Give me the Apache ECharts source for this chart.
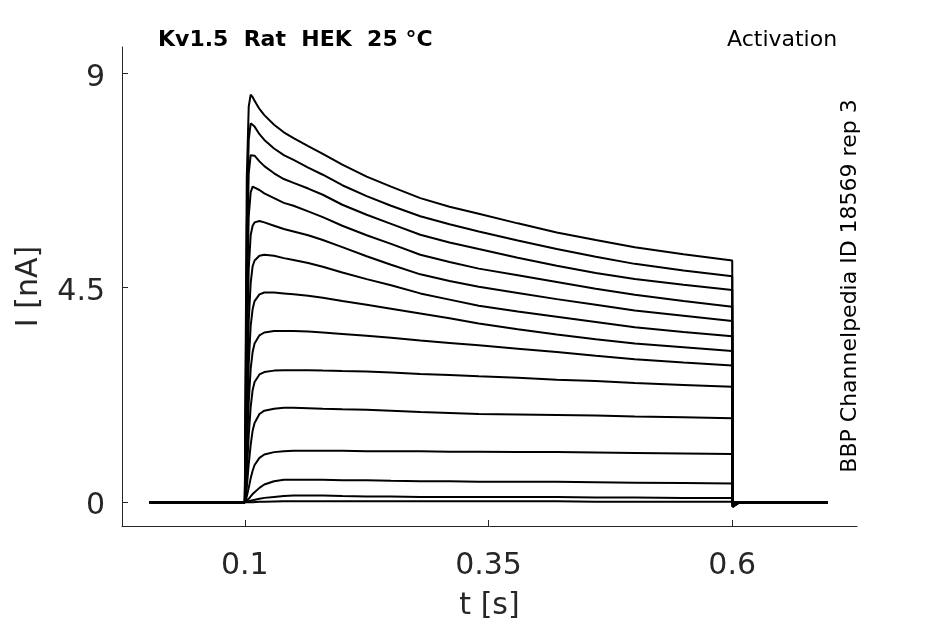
<!DOCTYPE html>
<html>
<head>
<meta charset="utf-8">
<script src="https://cdn.jsdelivr.net/npm/echarts@6/dist/echarts.min.js"></script>
<style>
html,body{margin:0;padding:0;background:#fff;}
#chart{width:945px;height:624px;}
</style>
</head>
<body>
<div id="chart"></div>
<script>
// time samples [s]
var times = [0.002, 0.1, 0.101, 0.102, 0.104, 0.106, 0.108, 0.11, 0.115, 0.12, 0.13,
             0.14, 0.15, 0.165, 0.18, 0.2, 0.225, 0.25, 0.28, 0.31, 0.34, 0.38, 0.42, 0.46, 0.5, 0.55, 0.6,
             0.6005, 0.602, 0.606, 0.615, 0.698];

// current traces [nA], one per voltage step
var trace1  = [0, 0, 3.5, 6.8, 8.3, 8.55, 8.5, 8.42, 8.25, 8.12, 7.92,
               7.76, 7.64, 7.47, 7.31, 7.08, 6.83, 6.62, 6.38, 6.2, 6.05, 5.85, 5.66, 5.5, 5.35, 5.2, 5.07,
               -0.1, -0.06, -0.02, 0, 0];
var trace2  = [0, 0, 2.8, 5.8, 7.6, 7.95, 7.95, 7.88, 7.72, 7.6, 7.42,
               7.28, 7.18, 7.02, 6.87, 6.65, 6.42, 6.22, 6.0, 5.83, 5.68, 5.49, 5.31, 5.15, 5.0, 4.86, 4.74,
               -0.1, -0.06, -0.02, 0, 0];
var trace3  = [0, 0, 2.3, 4.9, 6.9, 7.28, 7.32, 7.27, 7.15, 7.05, 6.9,
               6.78, 6.7, 6.58, 6.45, 6.24, 6.03, 5.84, 5.61, 5.45, 5.31, 5.13, 4.96, 4.81, 4.68, 4.56, 4.45,
               -0.09, -0.05, -0.02, 0, 0];
var trace4  = [0, 0, 1.8, 4.0, 6.0, 6.5, 6.62, 6.62, 6.55, 6.48, 6.38,
               6.28, 6.22, 6.1, 5.98, 5.8, 5.6, 5.42, 5.19, 5.04, 4.9, 4.76, 4.62, 4.48, 4.35, 4.22, 4.1,
               -0.09, -0.05, -0.02, 0, 0];
var trace5  = [0, 0, 1.3, 3.0, 4.9, 5.6, 5.8, 5.87, 5.9, 5.87, 5.8,
               5.73, 5.68, 5.6, 5.5, 5.35, 5.16, 4.98, 4.78, 4.64, 4.52, 4.39, 4.26, 4.14, 4.02, 3.91, 3.8,
               -0.08, -0.05, -0.02, 0, 0];
var trace6  = [0, 0, 0.9, 2.1, 3.8, 4.6, 4.95, 5.07, 5.17, 5.19, 5.17,
               5.12, 5.08, 5.02, 4.94, 4.82, 4.68, 4.55, 4.38, 4.25, 4.12, 4.0, 3.89, 3.78, 3.67, 3.57, 3.48,
               -0.08, -0.04, -0.02, 0, 0];
var trace7  = [0, 0, 0.6, 1.5, 2.9, 3.7, 4.05, 4.22, 4.36, 4.4, 4.4,
               4.38, 4.36, 4.33, 4.29, 4.22, 4.14, 4.06, 3.96, 3.86, 3.75, 3.63, 3.52, 3.42, 3.33, 3.25, 3.17,
               -0.07, -0.04, -0.01, 0, 0];
var trace8  = [0, 0, 0.4, 1.0, 2.1, 2.8, 3.15, 3.33, 3.5, 3.56, 3.59,
               3.59, 3.59, 3.58, 3.56, 3.53, 3.49, 3.45, 3.39, 3.34, 3.29, 3.22, 3.15, 3.07, 3.0, 2.93, 2.87,
               -0.06, -0.03, -0.01, 0, 0];
var trace9  = [0, 0, 0.25, 0.6, 1.4, 2.0, 2.35, 2.52, 2.68, 2.73, 2.76,
               2.77, 2.77, 2.77, 2.76, 2.75, 2.74, 2.72, 2.69, 2.67, 2.64, 2.61, 2.57, 2.54, 2.5, 2.46, 2.42,
               -0.05, -0.03, -0.01, 0, 0];
var trace10 = [0, 0, 0.12, 0.3, 0.8, 1.2, 1.5, 1.66, 1.85, 1.92, 1.96,
               1.98, 1.98, 1.97, 1.96, 1.95, 1.94, 1.92, 1.89, 1.87, 1.85, 1.84, 1.83, 1.82, 1.8, 1.78, 1.76,
               -0.04, -0.02, -0.01, 0, 0];
var trace11 = [0, 0, 0.05, 0.12, 0.3, 0.5, 0.66, 0.78, 0.93, 1.0, 1.05,
               1.07, 1.08, 1.08, 1.08, 1.08, 1.07, 1.07, 1.07, 1.06, 1.06, 1.05, 1.05, 1.04, 1.03, 1.02, 1.01,
               -0.03, -0.02, -0.01, 0, 0];
var trace12 = [0, 0, 0.01, 0.03, 0.07, 0.12, 0.17, 0.21, 0.3, 0.37, 0.44,
               0.47, 0.47, 0.47, 0.47, 0.46, 0.46, 0.45, 0.44, 0.44, 0.43, 0.43, 0.43, 0.42, 0.41, 0.4, 0.39,
               -0.02, -0.01, 0, 0, 0];
var trace13 = [0, 0, 0, 0.01, 0.02, 0.03, 0.04, 0.05, 0.07, 0.09, 0.11,
               0.13, 0.14, 0.14, 0.14, 0.13, 0.12, 0.12, 0.11, 0.11, 0.11, 0.11, 0.11, 0.1, 0.1, 0.09, 0.09,
               -0.01, 0, 0, 0, 0];
var trace14 = [0, 0, 0, 0, 0, 0, 0, 0.005, 0.01, 0.01, 0.015,
               0.02, 0.02, 0.02, 0.02, 0.02, 0.02, 0.02, 0.02, 0.02, 0.02, 0.02, 0.02, 0.01, 0.01, 0.01, 0.01,
               0, 0, 0, 0, 0];

var traces = [trace1, trace2, trace3, trace4, trace5, trace6, trace7, trace8, trace9, trace10, trace11, trace12, trace13, trace14];

var xTicks = [0.1, 0.35, 0.6];
var yTicks = [0, 4.5, 9];

var titleText = 'Kv1.5  Rat  HEK  25 °C';
var protocolText = 'Activation';
var sourceText = 'BBP Channelpedia ID 18569 rep 3';

var FONT = 'DejaVu Sans';
var AX = '#262626';

var series = traces.map(function (tr) {
  return {
    type: 'line',
    data: times.map(function (t, i) { return [t, tr[i]]; }),
    showSymbol: false,
    symbol: 'none',
    lineStyle: { color: '#000', width: 2 },
    silent: true
  };
});

var chart = echarts.init(document.getElementById('chart'), null, { renderer: 'canvas' });
chart.setOption({
  animation: false,
  backgroundColor: '#fff',
  grid: { left: 122, right: 88, top: 47, bottom: 98, containLabel: false, outerBoundsMode: 'none' },
  title: [
    { text: titleText, left: 158, top: 29, textStyle: { fontFamily: FONT, fontSize: 22, fontWeight: 'bold', color: '#000' }, padding: 0 },
    { text: protocolText, left: 727, top: 29, textStyle: { fontFamily: FONT, fontSize: 22, fontWeight: 'normal', color: '#000' }, padding: 0 }
  ],
  graphic: [
    {
      type: 'text', x: 850, y: 286, rotation: Math.PI / 2,
      style: { text: sourceText, fontFamily: FONT, fontSize: 22, fill: '#000', align: 'center', verticalAlign: 'middle' }
    }
  ],
  xAxis: {
    type: 'value', min: -0.026, max: 0.728,
    name: 't [s]', nameLocation: 'middle', nameGap: 65,
    nameTextStyle: { fontFamily: FONT, fontSize: 30, color: AX },
    axisLine: { show: true, onZero: false, lineStyle: { color: AX, width: 1 } },
    axisTick: { show: true, inside: true, length: 6, customValues: xTicks, lineStyle: { color: AX } },
    axisLabel: { customValues: xTicks, fontFamily: FONT, fontSize: 30, color: AX, margin: 25 },
    splitLine: { show: false }
  },
  yAxis: {
    type: 'value', min: -0.5, max: 9.55,
    name: 'I [nA]', nameLocation: 'middle', nameGap: 78,
    nameTextStyle: { fontFamily: FONT, fontSize: 30, color: AX },
    axisLine: { show: true, onZero: false, lineStyle: { color: AX, width: 1 } },
    axisTick: { show: true, inside: true, length: 6, customValues: yTicks, lineStyle: { color: AX } },
    axisLabel: {
      customValues: yTicks, fontFamily: FONT, fontSize: 30, color: AX, margin: 17,
      formatter: function (v) { return '{a|' + v + '}'; },
      rich: { a: { fontFamily: FONT, fontSize: 30, color: AX, padding: [9, 0, 0, 0] } }
    },
    splitLine: { show: false }
  },
  series: series
});
</script>
</body>
</html>
